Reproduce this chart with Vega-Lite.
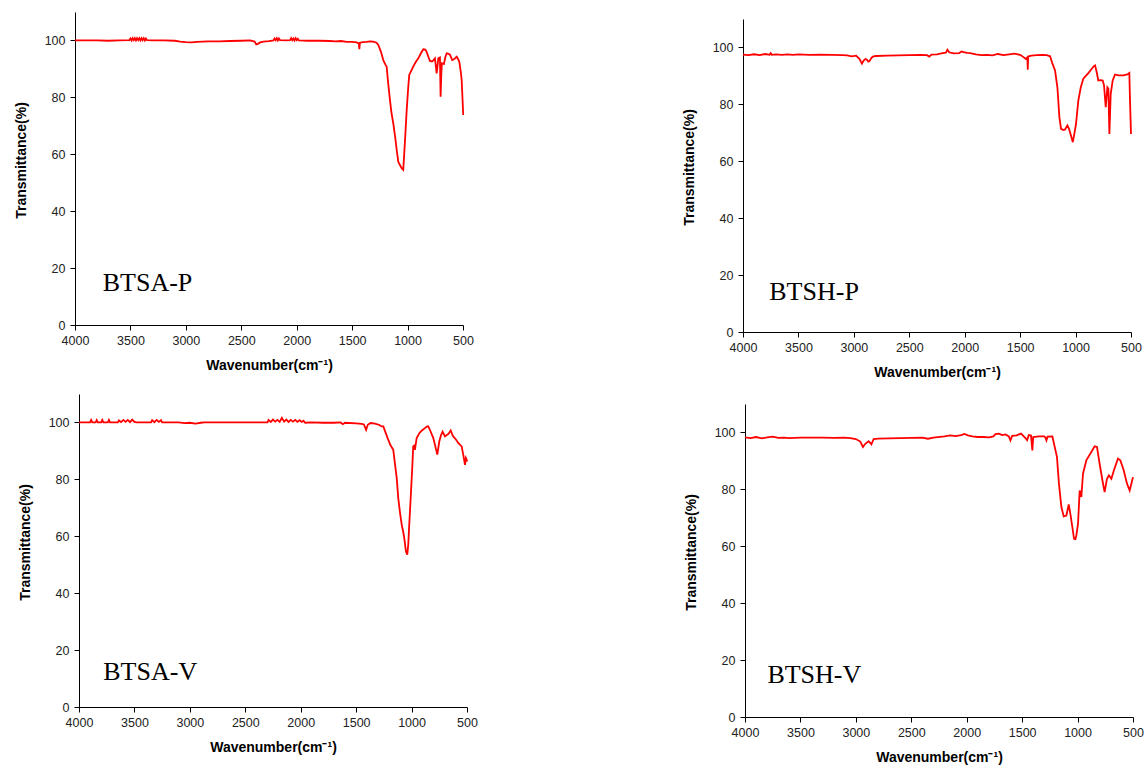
{
  "$schema": "https://vega.github.io/schema/vega-lite/v6.json",
  "background": "white",
  "padding": {"left": 14, "top": 12, "right": 5, "bottom": 5},
  "config": {
    "view": {"stroke": null},
    "axis": {
      "grid": false,
      "domainColor": "#000000",
      "domainWidth": 1,
      "tickColor": "#000000",
      "tickWidth": 1,
      "labelFont": "Liberation Sans",
      "labelFontSize": 12.5,
      "labelColor": "#222222",
      "titleFont": "Liberation Sans",
      "titleFontSize": 14,
      "titleFontWeight": "bold",
      "titleColor": "#000000"
    },
    "axisX": {"labelPadding": 4, "titlePadding": 12, "labelFlush": false, "labelOverlap": false},
    "axisY": {"labelPadding": 5, "titlePadding": 16, "titleY": 148, "labelFlush": false}
  },
  "datasets": {
    "btsap": [
      {"wn":4000,"T":100.0},{"wn":3900,"T":100.0},{"wn":3800,"T":100.0},{"wn":3700,"T":99.9},{"wn":3600,"T":100.0},{"wn":3510,"T":100.1},
      {"wn":3500,"T":100.7},{"wn":3490,"T":100.0},{"wn":3480,"T":100.8},{"wn":3470,"T":100.1},{"wn":3460,"T":100.8},{"wn":3450,"T":100.0},{"wn":3440,"T":100.8},{"wn":3430,"T":100.1},{"wn":3420,"T":100.8},{"wn":3410,"T":100.0},{"wn":3400,"T":100.8},{"wn":3390,"T":100.1},{"wn":3380,"T":100.8},{"wn":3370,"T":100.0},{"wn":3360,"T":100.7},{"wn":3350,"T":100.1},
      {"wn":3300,"T":100.0},{"wn":3200,"T":100.0},{"wn":3100,"T":99.9},{"wn":3050,"T":99.6},{"wn":3000,"T":99.4},{"wn":2950,"T":99.3},{"wn":2900,"T":99.5},{"wn":2850,"T":99.6},{"wn":2800,"T":99.7},{"wn":2700,"T":99.7},{"wn":2600,"T":99.8},{"wn":2500,"T":99.9},{"wn":2420,"T":100.0},{"wn":2380,"T":99.6},{"wn":2365,"T":98.6},{"wn":2350,"T":98.8},{"wn":2330,"T":99.3},{"wn":2300,"T":99.6},{"wn":2250,"T":99.8},{"wn":2210,"T":100.0},
      {"wn":2200,"T":100.7},{"wn":2190,"T":100.1},{"wn":2180,"T":100.8},{"wn":2170,"T":100.0},{"wn":2160,"T":100.7},{"wn":2150,"T":100.1},{"wn":2100,"T":100.0},{"wn":2060,"T":100.1},
      {"wn":2050,"T":100.8},{"wn":2040,"T":100.1},{"wn":2030,"T":100.7},{"wn":2020,"T":100.0},{"wn":2010,"T":100.8},{"wn":2000,"T":100.1},{"wn":1990,"T":100.6},{"wn":1980,"T":100.0},
      {"wn":1900,"T":99.9},{"wn":1800,"T":99.9},{"wn":1700,"T":99.8},{"wn":1650,"T":99.7},{"wn":1600,"T":99.8},{"wn":1550,"T":99.5},{"wn":1500,"T":99.5},{"wn":1460,"T":99.3},{"wn":1440,"T":99.0},{"wn":1435,"T":96.9},{"wn":1430,"T":99.2},{"wn":1400,"T":99.4},{"wn":1370,"T":99.5},{"wn":1340,"T":99.7},{"wn":1310,"T":99.6},{"wn":1280,"T":99.2},
      {"wn":1264,"T":98.4},{"wn":1240,"T":96.0},{"wn":1219,"T":93.1},{"wn":1200,"T":91.5},{"wn":1189,"T":90.8},{"wn":1175,"T":85.0},{"wn":1159,"T":79.1},{"wn":1145,"T":74.5},{"wn":1129,"T":70.9},{"wn":1110,"T":65.5},{"wn":1098,"T":61.5},{"wn":1084,"T":57.4},{"wn":1070,"T":56.3},{"wn":1053,"T":55.1},{"wn":1039,"T":54.5},{"wn":1030,"T":60.3},{"wn":1020,"T":67.0},{"wn":1008,"T":75.5},{"wn":995,"T":83.0},{"wn":985,"T":87.9},{"wn":965,"T":89.5},{"wn":949,"T":90.8},{"wn":925,"T":92.5},{"wn":903,"T":93.7},{"wn":880,"T":95.5},{"wn":858,"T":96.9},{"wn":840,"T":96.8},{"wn":828,"T":96.0},{"wn":810,"T":94.0},{"wn":798,"T":92.8},{"wn":780,"T":92.6},{"wn":768,"T":93.0},{"wn":753,"T":93.7},{"wn":745,"T":91.0},{"wn":738,"T":88.4},{"wn":730,"T":91.0},{"wn":723,"T":93.7},{"wn":708,"T":94.0},{"wn":702,"T":80.2},{"wn":696,"T":88.0},{"wn":690,"T":92.0},{"wn":672,"T":91.7},{"wn":660,"T":94.0},{"wn":647,"T":95.5},{"wn":630,"T":95.3},{"wn":618,"T":95.0},{"wn":597,"T":93.1},{"wn":585,"T":93.3},{"wn":572,"T":93.7},{"wn":557,"T":94.3},{"wn":545,"T":93.5},{"wn":533,"T":92.5},{"wn":520,"T":89.0},{"wn":512,"T":86.1},{"wn":505,"T":80.0},{"wn":498,"T":73.8}
    ],
    "btshp": [
      {"wn":4000,"T":97.5},{"wn":3950,"T":97.3},{"wn":3900,"T":97.6},{"wn":3850,"T":97.3},{"wn":3800,"T":97.7},{"wn":3760,"T":97.4},{"wn":3750,"T":98.0},{"wn":3740,"T":97.4},{"wn":3700,"T":97.6},{"wn":3650,"T":97.4},{"wn":3600,"T":97.6},{"wn":3550,"T":97.4},{"wn":3500,"T":97.6},{"wn":3450,"T":97.5},{"wn":3400,"T":97.4},{"wn":3300,"T":97.5},{"wn":3200,"T":97.4},{"wn":3100,"T":97.3},{"wn":3060,"T":97.2},{"wn":3020,"T":96.9},{"wn":2980,"T":97.1},{"wn":2950,"T":96.0},{"wn":2927,"T":94.3},{"wn":2910,"T":95.5},{"wn":2895,"T":95.9},{"wn":2882,"T":95.7},{"wn":2870,"T":95.0},{"wn":2859,"T":95.2},{"wn":2840,"T":96.4},{"wn":2823,"T":96.9},{"wn":2800,"T":97.0},{"wn":2700,"T":97.1},{"wn":2600,"T":97.2},{"wn":2500,"T":97.3},{"wn":2400,"T":97.4},{"wn":2340,"T":97.3},{"wn":2320,"T":96.8},{"wn":2300,"T":97.5},{"wn":2250,"T":97.6},{"wn":2200,"T":98.0},{"wn":2170,"T":98.2},{"wn":2156,"T":99.2},{"wn":2140,"T":98.3},{"wn":2100,"T":97.9},{"wn":2050,"T":98.0},{"wn":2030,"T":98.6},{"wn":2010,"T":98.4},{"wn":1980,"T":98.1},{"wn":1950,"T":98.0},{"wn":1900,"T":97.6},{"wn":1850,"T":97.3},{"wn":1800,"T":97.4},{"wn":1750,"T":97.2},{"wn":1700,"T":97.7},{"wn":1650,"T":97.3},{"wn":1600,"T":97.6},{"wn":1550,"T":97.8},{"wn":1500,"T":97.4},{"wn":1470,"T":96.6},{"wn":1450,"T":96.0},{"wn":1435,"T":96.5},{"wn":1431,"T":92.2},{"wn":1428,"T":96.8},{"wn":1400,"T":97.1},{"wn":1350,"T":97.3},{"wn":1300,"T":97.4},{"wn":1260,"T":97.3},{"wn":1230,"T":96.9},{"wn":1210,"T":94.5},{"wn":1185,"T":91.9},{"wn":1164,"T":86.0},{"wn":1146,"T":75.5},{"wn":1131,"T":71.4},{"wn":1110,"T":71.0},{"wn":1095,"T":71.2},{"wn":1074,"T":72.6},{"wn":1059,"T":71.4},{"wn":1041,"T":69.0},{"wn":1025,"T":66.7},{"wn":1011,"T":69.6},{"wn":996,"T":73.1},{"wn":975,"T":81.4},{"wn":953,"T":86.0},{"wn":930,"T":89.0},{"wn":885,"T":91.0},{"wn":854,"T":92.5},{"wn":835,"T":93.4},{"wn":824,"T":93.7},{"wn":809,"T":91.3},{"wn":795,"T":88.4},{"wn":775,"T":88.5},{"wn":755,"T":88.4},{"wn":743,"T":86.6},{"wn":728,"T":79.0},{"wn":713,"T":86.0},{"wn":704,"T":85.5},{"wn":695,"T":69.6},{"wn":683,"T":83.7},{"wn":665,"T":88.4},{"wn":644,"T":90.5},{"wn":614,"T":90.2},{"wn":569,"T":90.2},{"wn":533,"T":90.5},{"wn":515,"T":91.0},{"wn":509,"T":81.4},{"wn":500,"T":69.6}
    ],
    "btsav": [
      {"wn":4000,"T":100.0},{"wn":3900,"T":100.0},{"wn":3890,"T":100.9},{"wn":3880,"T":100.0},{"wn":3850,"T":100.0},{"wn":3840,"T":100.8},{"wn":3830,"T":100.0},{"wn":3800,"T":100.0},{"wn":3790,"T":100.9},{"wn":3780,"T":100.0},{"wn":3740,"T":100.0},{"wn":3730,"T":100.9},{"wn":3720,"T":100.0},{"wn":3650,"T":100.0},{"wn":3640,"T":100.7},{"wn":3620,"T":100.1},{"wn":3600,"T":100.9},{"wn":3580,"T":100.2},{"wn":3560,"T":100.9},{"wn":3540,"T":100.1},{"wn":3520,"T":101.0},{"wn":3500,"T":100.2},{"wn":3480,"T":100.0},{"wn":3350,"T":100.0},{"wn":3340,"T":100.8},{"wn":3320,"T":100.1},{"wn":3300,"T":100.9},{"wn":3280,"T":100.2},{"wn":3260,"T":100.8},{"wn":3250,"T":100.0},{"wn":3100,"T":100.0},{"wn":3050,"T":99.8},{"wn":3000,"T":99.9},{"wn":2950,"T":99.6},{"wn":2900,"T":99.9},{"wn":2870,"T":100.0},{"wn":2300,"T":100.0},
      {"wn":2290,"T":100.9},{"wn":2270,"T":100.2},{"wn":2250,"T":101.0},{"wn":2230,"T":100.3},{"wn":2210,"T":100.9},{"wn":2190,"T":100.2},{"wn":2170,"T":101.6},{"wn":2150,"T":100.3},{"wn":2130,"T":101.0},{"wn":2110,"T":100.2},{"wn":2090,"T":100.9},{"wn":2070,"T":100.3},{"wn":2050,"T":100.9},{"wn":2030,"T":100.2},{"wn":2010,"T":100.8},{"wn":1990,"T":100.2},{"wn":1975,"T":100.6},{"wn":1960,"T":99.9},
      {"wn":1900,"T":100.0},{"wn":1800,"T":99.9},{"wn":1700,"T":99.9},{"wn":1640,"T":100.0},{"wn":1620,"T":99.4},{"wn":1600,"T":99.9},{"wn":1500,"T":99.7},{"wn":1450,"T":99.5},{"wn":1430,"T":99.3},{"wn":1410,"T":97.4},{"wn":1395,"T":99.2},{"wn":1370,"T":99.8},{"wn":1330,"T":99.6},{"wn":1290,"T":99.1},{"wn":1270,"T":98.6},{"wn":1255,"T":98.6},{"wn":1235,"T":96.5},{"wn":1210,"T":93.9},{"wn":1190,"T":92.0},{"wn":1165,"T":90.4},{"wn":1150,"T":85.5},{"wn":1134,"T":80.5},{"wn":1120,"T":73.4},{"wn":1105,"T":68.5},{"wn":1089,"T":64.1},{"wn":1075,"T":61.5},{"wn":1066,"T":59.4},{"wn":1051,"T":54.7},{"wn":1039,"T":53.5},{"wn":1030,"T":57.0},{"wn":1021,"T":64.1},{"wn":1008,"T":73.4},{"wn":994,"T":84.0},{"wn":985,"T":91.6},{"wn":977,"T":91.8},{"wn":970,"T":90.4},{"wn":962,"T":92.5},{"wn":954,"T":94.5},{"wn":930,"T":96.2},{"wn":909,"T":97.1},{"wn":880,"T":98.0},{"wn":860,"T":98.6},{"wn":849,"T":98.6},{"wn":830,"T":97.0},{"wn":804,"T":94.5},{"wn":785,"T":91.5},{"wn":768,"T":88.7},{"wn":750,"T":93.3},{"wn":735,"T":95.5},{"wn":720,"T":96.8},{"wn":699,"T":95.1},{"wn":685,"T":95.5},{"wn":669,"T":95.9},{"wn":647,"T":97.2},{"wn":635,"T":96.0},{"wn":624,"T":95.1},{"wn":600,"T":94.0},{"wn":579,"T":92.8},{"wn":560,"T":92.0},{"wn":548,"T":91.6},{"wn":534,"T":88.7},{"wn":518,"T":85.1},{"wn":510,"T":87.5},{"wn":503,"T":86.9},{"wn":500,"T":86.2}
    ],
    "btshv": [
      {"wn":4000,"T":98.3},{"wn":3950,"T":98.0},{"wn":3900,"T":98.4},{"wn":3850,"T":97.9},{"wn":3800,"T":98.3},{"wn":3750,"T":98.5},{"wn":3700,"T":98.1},{"wn":3650,"T":98.2},{"wn":3600,"T":98.0},{"wn":3500,"T":98.2},{"wn":3400,"T":98.2},{"wn":3300,"T":98.2},{"wn":3200,"T":98.1},{"wn":3100,"T":98.2},{"wn":3050,"T":98.0},{"wn":3000,"T":97.7},{"wn":2960,"T":96.8},{"wn":2936,"T":94.9},{"wn":2915,"T":96.0},{"wn":2884,"T":96.9},{"wn":2860,"T":95.8},{"wn":2839,"T":97.7},{"wn":2800,"T":97.8},{"wn":2700,"T":97.9},{"wn":2600,"T":98.0},{"wn":2500,"T":98.1},{"wn":2400,"T":98.2},{"wn":2350,"T":97.8},{"wn":2300,"T":98.2},{"wn":2200,"T":98.6},{"wn":2150,"T":99.0},{"wn":2100,"T":98.7},{"wn":2050,"T":99.1},{"wn":2020,"T":99.5},{"wn":1990,"T":99.0},{"wn":1950,"T":98.6},{"wn":1900,"T":98.4},{"wn":1850,"T":98.4},{"wn":1800,"T":98.3},{"wn":1760,"T":98.6},{"wn":1740,"T":99.4},{"wn":1710,"T":99.6},{"wn":1680,"T":99.1},{"wn":1650,"T":99.3},{"wn":1620,"T":98.6},{"wn":1606,"T":97.2},{"wn":1590,"T":98.8},{"wn":1550,"T":99.0},{"wn":1510,"T":99.6},{"wn":1490,"T":98.8},{"wn":1470,"T":98.0},{"wn":1455,"T":97.3},{"wn":1440,"T":99.1},{"wn":1420,"T":98.9},{"wn":1408,"T":93.7},{"wn":1400,"T":98.4},{"wn":1350,"T":98.6},{"wn":1300,"T":98.6},{"wn":1290,"T":98.2},{"wn":1281,"T":97.2},{"wn":1270,"T":98.5},{"wn":1227,"T":98.6},{"wn":1206,"T":94.9},{"wn":1186,"T":91.4},{"wn":1168,"T":82.0},{"wn":1146,"T":73.8},{"wn":1125,"T":70.5},{"wn":1101,"T":70.8},{"wn":1080,"T":74.7},{"wn":1065,"T":71.4},{"wn":1047,"T":66.7},{"wn":1032,"T":62.6},{"wn":1020,"T":62.5},{"wn":1011,"T":63.8},{"wn":996,"T":67.9},{"wn":981,"T":79.6},{"wn":966,"T":77.3},{"wn":951,"T":85.5},{"wn":921,"T":90.2},{"wn":876,"T":93.1},{"wn":846,"T":95.1},{"wn":825,"T":94.9},{"wn":801,"T":89.0},{"wn":776,"T":83.2},{"wn":756,"T":79.0},{"wn":735,"T":83.7},{"wn":717,"T":84.9},{"wn":695,"T":83.7},{"wn":672,"T":86.7},{"wn":636,"T":90.8},{"wn":614,"T":90.2},{"wn":584,"T":86.7},{"wn":554,"T":82.0},{"wn":530,"T":79.6},{"wn":515,"T":82.0},{"wn":500,"T":84.3}
    ]
  },
  "bounds": "flush",
  "spacing": 382,
  "vconcat": [
    {
      "bounds": "flush",
      "spacing": 280,
      "hconcat": [
        {
          "width": 388, "height": 313,
          "layer": [
            {"data": {"name": "btsap"},
             "mark": {"type": "line", "color": "#ff0000", "strokeWidth": 1.8},
             "encoding": {
               "x": {"field": "wn", "type": "quantitative", "scale": {"domain": [500, 4000], "reverse": true, "nice": false, "zero": false},
                     "axis": {"title": "Wavenumber(cm⁻¹)", "values": [500,750,1000,1250,1500,1750,2000,2250,2500,2750,3000,3250,3500,3750,4000], "labelExpr": "datum.value % 500 == 0 ? datum.label : ''", "format": "d", "tickSize": {"condition": {"test": "datum.value % 500 == 0", "value": 5}, "value": 3}}},
               "y": {"field": "T", "type": "quantitative", "scale": {"domain": [0, 110], "nice": false},
                     "axis": {"title": "Transmittance(%)", "values": [0,10,20,30,40,50,60,70,80,90,100], "labelExpr": "datum.value % 20 == 0 ? datum.label : ''", "tickSize": {"condition": {"test": "datum.value % 20 == 0", "value": 5}, "value": 3}}}
             }},
            {"data": {"values": [{"label": "BTSA-P"}]},
             "mark": {"type": "text", "font": "Liberation Serif", "fontSize": 26, "align": "left", "baseline": "alphabetic", "color": "#000000"},
             "encoding": {"x": {"datum": 3750}, "y": {"datum": 12}, "text": {"field": "label"}}}
          ]
        },
        {
          "bounds": "flush",
          "spacing": 0,
          "vconcat": [
            {"width": 388, "height": 7, "data": {"values": []}, "mark": {"type": "point", "opacity": 0}, "encoding": {}},
            {
              "width": 388, "height": 313,
              "layer": [
                {"data": {"name": "btshp"},
                 "mark": {"type": "line", "color": "#ff0000", "strokeWidth": 1.8},
                 "encoding": {
                   "x": {"field": "wn", "type": "quantitative", "scale": {"domain": [500, 4000], "reverse": true, "nice": false, "zero": false},
                         "axis": {"title": "Wavenumber(cm⁻¹)", "values": [500,750,1000,1250,1500,1750,2000,2250,2500,2750,3000,3250,3500,3750,4000], "labelExpr": "datum.value % 500 == 0 ? datum.label : ''", "format": "d", "tickSize": {"condition": {"test": "datum.value % 500 == 0", "value": 5}, "value": 3}}},
                   "y": {"field": "T", "type": "quantitative", "scale": {"domain": [0, 110], "nice": false},
                         "axis": {"title": "Transmittance(%)", "values": [0,10,20,30,40,50,60,70,80,90,100], "labelExpr": "datum.value % 20 == 0 ? datum.label : ''", "tickSize": {"condition": {"test": "datum.value % 20 == 0", "value": 5}, "value": 3}}}
                 }},
                {"data": {"values": [{"label": "BTSH-P"}]},
                 "mark": {"type": "text", "font": "Liberation Serif", "fontSize": 26, "align": "left", "baseline": "alphabetic", "color": "#000000"},
                 "encoding": {"x": {"datum": 3763}, "y": {"datum": 11.3}, "text": {"field": "label"}}}
              ]
            }
          ]
        }
      ]
    },
    {
      "bounds": "flush",
      "spacing": 670,
      "hconcat": [
        {
          "bounds": "flush",
          "spacing": 0,
          "hconcat": [
            {"width": 4, "height": 313, "data": {"values": []}, "mark": {"type": "point", "opacity": 0}, "encoding": {}},
            {
              "width": 388, "height": 313,
              "layer": [
                {"data": {"name": "btsav"},
                 "mark": {"type": "line", "color": "#ff0000", "strokeWidth": 1.8},
                 "encoding": {
                   "x": {"field": "wn", "type": "quantitative", "scale": {"domain": [500, 4000], "reverse": true, "nice": false, "zero": false},
                         "axis": {"title": "Wavenumber(cm⁻¹)", "values": [500,750,1000,1250,1500,1750,2000,2250,2500,2750,3000,3250,3500,3750,4000], "labelExpr": "datum.value % 500 == 0 ? datum.label : ''", "format": "d", "tickSize": {"condition": {"test": "datum.value % 500 == 0", "value": 5}, "value": 3}}},
                   "y": {"field": "T", "type": "quantitative", "scale": {"domain": [0, 110], "nice": false},
                         "axis": {"title": "Transmittance(%)", "values": [0,10,20,30,40,50,60,70,80,90,100], "labelExpr": "datum.value % 20 == 0 ? datum.label : ''", "tickSize": {"condition": {"test": "datum.value % 20 == 0", "value": 5}, "value": 3}}}
                 }},
                {"data": {"values": [{"label": "BTSA-V"}]},
                 "mark": {"type": "text", "font": "Liberation Serif", "fontSize": 26, "align": "left", "baseline": "alphabetic", "color": "#000000"},
                 "encoding": {"x": {"datum": 3781}, "y": {"datum": 9.4}, "text": {"field": "label"}}}
              ]
            }
          ]
        },
        {
          "bounds": "flush",
          "spacing": 0,
          "vconcat": [
            {"width": 388, "height": 10, "data": {"values": []}, "mark": {"type": "point", "opacity": 0}, "encoding": {}},
            {
              "width": 388, "height": 313,
              "layer": [
                {"data": {"name": "btshv"},
                 "mark": {"type": "line", "color": "#ff0000", "strokeWidth": 1.8},
                 "encoding": {
                   "x": {"field": "wn", "type": "quantitative", "scale": {"domain": [500, 4000], "reverse": true, "nice": false, "zero": false},
                         "axis": {"title": "Wavenumber(cm⁻¹)", "values": [500,750,1000,1250,1500,1750,2000,2250,2500,2750,3000,3250,3500,3750,4000], "labelExpr": "datum.value % 500 == 0 ? datum.label : ''", "format": "d", "tickSize": {"condition": {"test": "datum.value % 500 == 0", "value": 5}, "value": 3}}},
                   "y": {"field": "T", "type": "quantitative", "scale": {"domain": [0, 110], "nice": false},
                         "axis": {"title": "Transmittance(%)", "values": [0,10,20,30,40,50,60,70,80,90,100], "labelExpr": "datum.value % 20 == 0 ? datum.label : ''", "tickSize": {"condition": {"test": "datum.value % 20 == 0", "value": 5}, "value": 3}}}
                 }},
                {"data": {"values": [{"label": "BTSH-V"}]},
                 "mark": {"type": "text", "font": "Liberation Serif", "fontSize": 26, "align": "left", "baseline": "alphabetic", "color": "#000000"},
                 "encoding": {"x": {"datum": 3798}, "y": {"datum": 11.9}, "text": {"field": "label"}}}
              ]
            }
          ]
        }
      ]
    }
  ]
}
